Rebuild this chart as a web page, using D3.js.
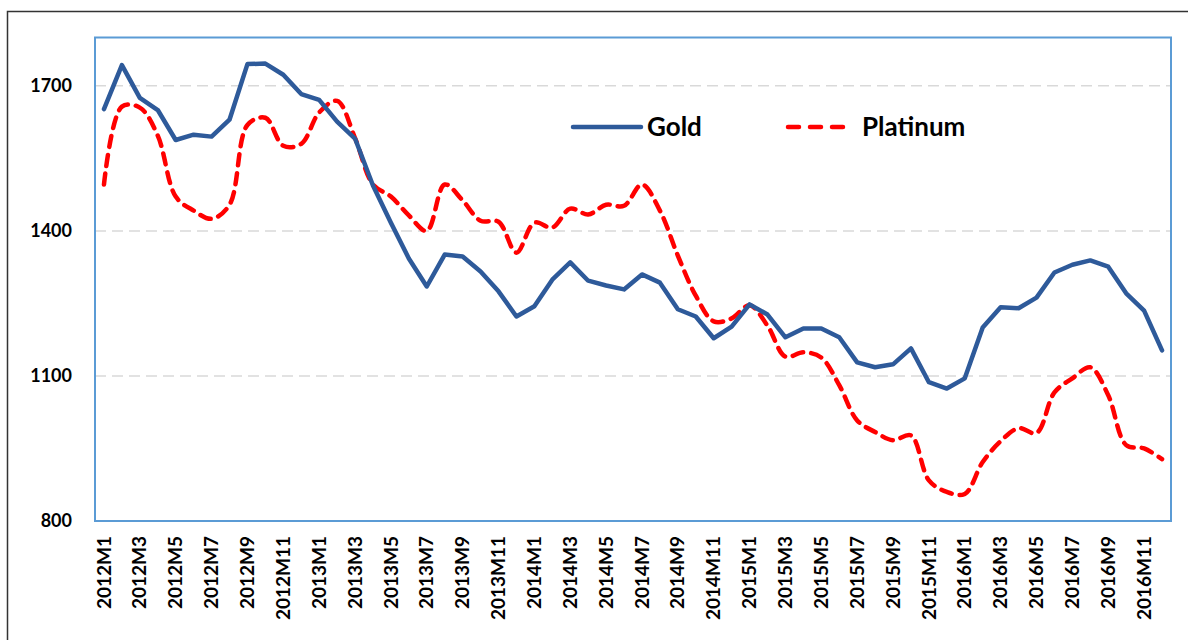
<!DOCTYPE html>
<html>
<head>
<meta charset="utf-8">
<script src="https://cdn.jsdelivr.net/npm/d3@7"></script>
<style>
  html, body { margin: 0; padding: 0; background: #fff; }
  svg { display: block; }
  text { font-family: Lato, "Open Sans", sans-serif; font-weight: bold; fill: #000; }
</style>
</head>
<body>
<svg id="chart" width="1188" height="640"></svg>
<script>
const years = [2012, 2013, 2014, 2015, 2016];
const categories = [];
years.forEach(yr => { for (let m = 1; m <= 12; m++) categories.push(yr + "M" + m); });

const gold = [1652, 1743, 1675, 1650, 1588, 1599, 1595, 1630, 1745, 1746, 1723, 1683,
              1671, 1626, 1591, 1494, 1417, 1343, 1285, 1351, 1347, 1316, 1275, 1223,
              1244, 1299, 1335, 1297, 1287, 1279, 1310, 1293, 1238, 1223, 1178, 1202,
              1248, 1227, 1180, 1198, 1198, 1180, 1128, 1118, 1124, 1157, 1087, 1074,
              1095, 1200, 1242, 1240, 1262, 1314, 1330, 1339, 1326, 1271, 1235, 1153];

const platinum = [1496, 1657, 1655, 1597, 1471, 1442, 1425, 1454, 1619, 1634, 1576, 1580,
                  1645, 1669, 1592, 1496, 1471, 1432, 1400, 1496, 1463, 1421, 1419, 1355,
                  1417, 1407, 1446, 1434, 1454, 1452, 1496, 1442, 1349, 1266, 1213, 1219,
                  1246, 1204, 1140, 1149, 1138, 1081, 1008, 984, 967, 977, 884, 860,
                  856, 922, 965, 992, 982, 1066, 1095, 1118, 1060, 957, 950, 928];

const yTicks = [800, 1100, 1400, 1700];
const xTickLabels = categories.filter((c, i) => i % 2 === 0);

const seriesNames = ["Gold", "Platinum"];

const svg = d3.select("#chart");

// outer frame
svg.append("path")
  .attr("d", "M7.5,640 L7.5,11.5 L1188,11.5")
  .attr("fill", "none").attr("stroke", "#333").attr("stroke-width", 1.5);

const plotL = 95, plotR = 1171, plotT = 37.5, plotB = 521;

const x = d3.scaleBand().domain(categories).range([plotL, plotR]).padding(0);
const y = d3.scaleLinear().domain([800, 1800]).range([plotB, plotT]);

// gridlines
svg.append("g").selectAll("line")
  .data(yTicks.filter(t => t > 800))
  .join("line")
  .attr("x1", plotL).attr("x2", plotR)
  .attr("y1", d => y(d)).attr("y2", d => y(d))
  .attr("stroke", "#d9d9d9").attr("stroke-width", 1.5)
  .attr("stroke-dasharray", "11,6");

// y axis labels
const yAxis = d3.axisLeft(y).tickValues(yTicks).tickSize(0).tickPadding(23).tickFormat(d3.format("d"));
const gy = svg.append("g").attr("transform", `translate(${plotL},0)`).call(yAxis);
gy.select(".domain").remove();
gy.selectAll("text").style("font-size", "18px").style("font-family", "Lato, 'Open Sans', sans-serif").style("font-weight", "bold");

// x axis labels
const xAxis = d3.axisBottom(x).tickValues(xTickLabels).tickSize(0).tickPadding(0);
const gx = svg.append("g").attr("transform", `translate(0,${plotB})`).call(xAxis);
gx.select(".domain").remove();
gx.selectAll("text")
  .attr("transform", "rotate(-90)")
  .attr("text-anchor", "end")
  .attr("x", -15).attr("y", 0).attr("dy", "0.35em")
  .style("font-size", "19px").style("font-family", "Lato, 'Open Sans', sans-serif").style("font-weight", "bold");

// plot border
svg.append("rect")
  .attr("x", plotL).attr("y", plotT)
  .attr("width", plotR - plotL).attr("height", plotB - plotT)
  .attr("fill", "none").attr("stroke", "#5b9bd5").attr("stroke-width", 2);

const cx = c => x(c) + x.bandwidth() / 2;

const goldLine = d3.line()
  .x((d, i) => cx(categories[i])).y(d => y(d));
const platLine = d3.line()
  .x((d, i) => cx(categories[i])).y(d => y(d))
  .curve(d3.curveCatmullRom.alpha(0.5));

svg.append("path").datum(platinum)
  .attr("d", platLine)
  .attr("fill", "none").attr("stroke", "#ff0000").attr("stroke-width", 4.5)
  .attr("stroke-dasharray", "11,8").attr("stroke-linecap", "round").attr("stroke-linejoin", "round");

svg.append("path").datum(gold)
  .attr("d", goldLine)
  .attr("fill", "none").attr("stroke", "#2e5a9a").attr("stroke-width", 4.5)
  .attr("stroke-linejoin", "round").attr("stroke-linecap", "round");

// legend
const legend = svg.append("g");
legend.append("line").attr("x1", 573).attr("x2", 641).attr("y1", 127).attr("y2", 127)
  .attr("stroke", "#2e5a9a").attr("stroke-width", 4.5).attr("stroke-linecap", "round");
legend.append("text").attr("x", 647).attr("y", 127).attr("dy", "0.35em")
  .style("font-size", "26px").text(seriesNames[0]);
legend.append("line").attr("x1", 788).attr("x2", 850).attr("y1", 127).attr("y2", 127)
  .attr("stroke", "#ff0000").attr("stroke-width", 4.5).attr("stroke-linecap", "round")
  .attr("stroke-dasharray", "11,11");
legend.append("text").attr("x", 862).attr("y", 127).attr("dy", "0.35em")
  .style("font-size", "26px").text(seriesNames[1]);
</script>
</body>
</html>
